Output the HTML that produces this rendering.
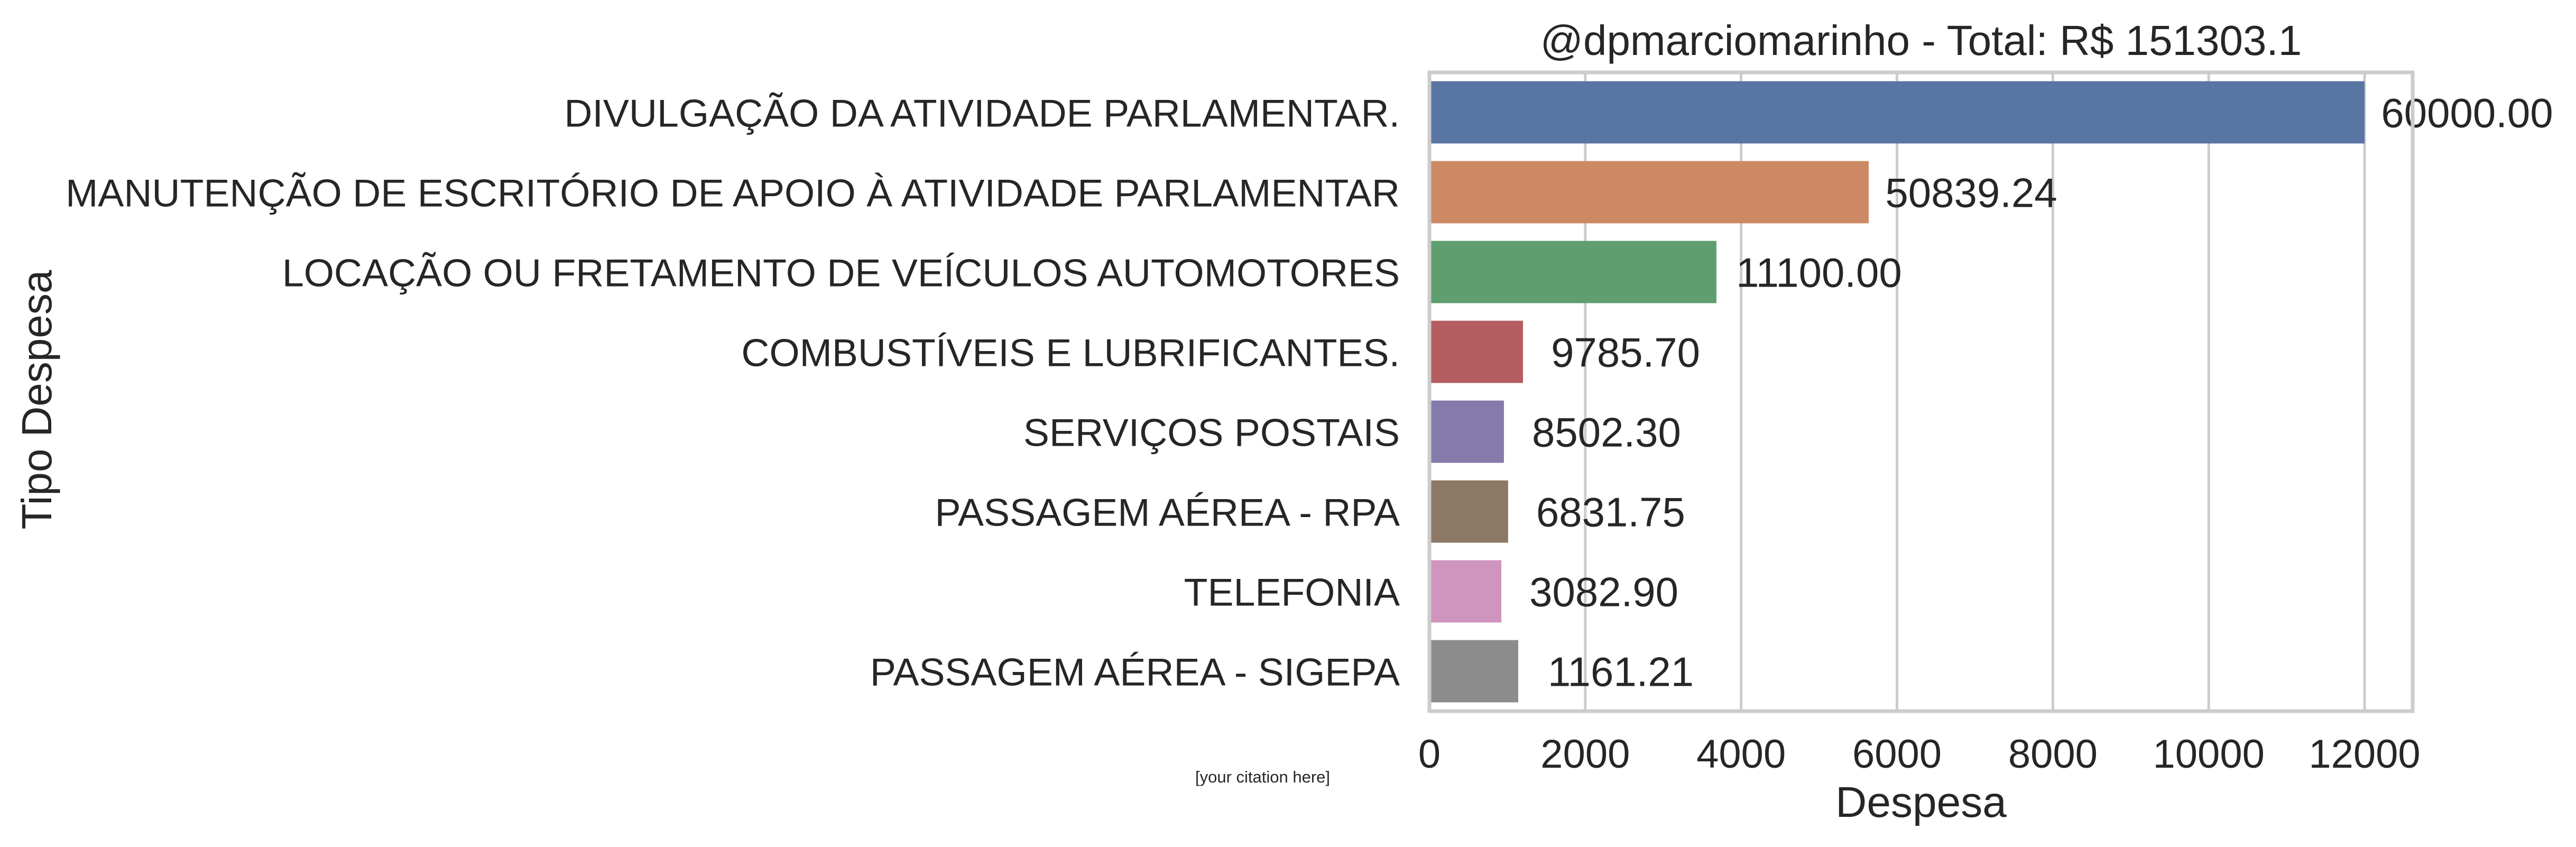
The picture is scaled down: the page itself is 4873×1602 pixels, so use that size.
<!DOCTYPE html>
<html><head><meta charset="utf-8"><style>
html,body{margin:0;padding:0;background:#fff;}
svg{display:block;font-family:"Liberation Sans",Arial,sans-serif;}
</style></head><body>
<svg id="chart" width="4873" height="1602" viewBox="0 0 4873 1602" xmlns="http://www.w3.org/2000/svg">
<rect x="0" y="0" width="4873" height="1602" fill="#fff"/>
<g id="grid"></g>
<g id="bars"></g>
<g id="labels"></g>
<g id="cats"></g>
<g id="ticks"></g>
<rect x="2704" y="137" width="1860" height="1208" fill="none" stroke="#cccccc" stroke-width="7"/>
<text x="3634" y="104" font-size="80" fill="#262626" text-anchor="middle">@dpmarciomarinho - Total: R$ 151303.1</text>
<text x="3634" y="1545" font-size="82" fill="#262626" text-anchor="middle">Despesa</text>
<text transform="translate(97,756) rotate(-90)" font-size="80" fill="#262626" text-anchor="middle">Tipo Despesa</text>
<text x="2261" y="1480" font-size="31" fill="#262626">[your citation here]</text>
</svg>
<script>
const categories = ["DIVULGAÇÃO DA ATIVIDADE PARLAMENTAR.","MANUTENÇÃO DE ESCRITÓRIO DE APOIO À ATIVIDADE PARLAMENTAR","LOCAÇÃO OU FRETAMENTO DE VEÍCULOS AUTOMOTORES","COMBUSTÍVEIS E LUBRIFICANTES.","SERVIÇOS POSTAIS","PASSAGEM AÉREA - RPA","TELEFONIA","PASSAGEM AÉREA - SIGEPA"];
const barValues = [12000, 5637, 3683, 1201, 956, 1010, 923, 1140];
const valueLabels = ["60000.00","50839.24","11100.00","9785.70","8502.30","6831.75","3082.90","1161.21"];
const colors = ["#5975a4","#cc8963","#5f9e6e","#b55d60","#857aab","#8d7866","#d095bf","#8c8c8c"];
const xTicks = [0,2000,4000,6000,8000,10000,12000];
const xMax = 12617;

const NS = "http://www.w3.org/2000/svg";
const L = 2704, R = 4564, T = 137, B = 1345;
const band = (B - T) / categories.length;
function x(v){ return L + (R - L) * v / xMax; }
function yc(i){ return T + band * (i + 0.5); }
function mk(tag, attrs, parent){
  const e = document.createElementNS(NS, tag);
  for (const k in attrs) e.setAttribute(k, attrs[k]);
  parent.appendChild(e);
  return e;
}
const grid = document.getElementById('grid');
const ticks = document.getElementById('ticks');
xTicks.forEach(t => {
  const ln = mk('line', {x1:x(t), x2:x(t), y1:T, y2:B, stroke:'#cccccc', 'stroke-width':5}, grid);
  
  
  const tx = mk('text', {x:x(t), y:1452, 'font-size':76, fill:'#262626', 'text-anchor':'middle'}, ticks);
  tx.textContent = String(t);
  
  
});
const bars = document.getElementById('bars');
const labels = document.getElementById('labels');
const cats = document.getElementById('cats');
const bh = band * 0.78;
categories.forEach((c, i) => {
  const r = mk('rect', {x:x(0), y:yc(i) - bh/2, width:x(barValues[i]) - x(0), height:bh, fill:colors[i]}, bars);
  
  
  const lb = mk('text', {x:x(barValues[i]) + 194, y:yc(i) + 28, 'font-size':78, fill:'#262626', 'text-anchor':'middle'}, labels);
  lb.textContent = valueLabels[i];
  
  
  const ct = mk('text', {x:2648, y:yc(i) + 27, 'font-size':73.5, fill:'#262626', 'text-anchor':'end'}, cats);
  ct.textContent = c;
  
  
});
</script>
</body></html>
